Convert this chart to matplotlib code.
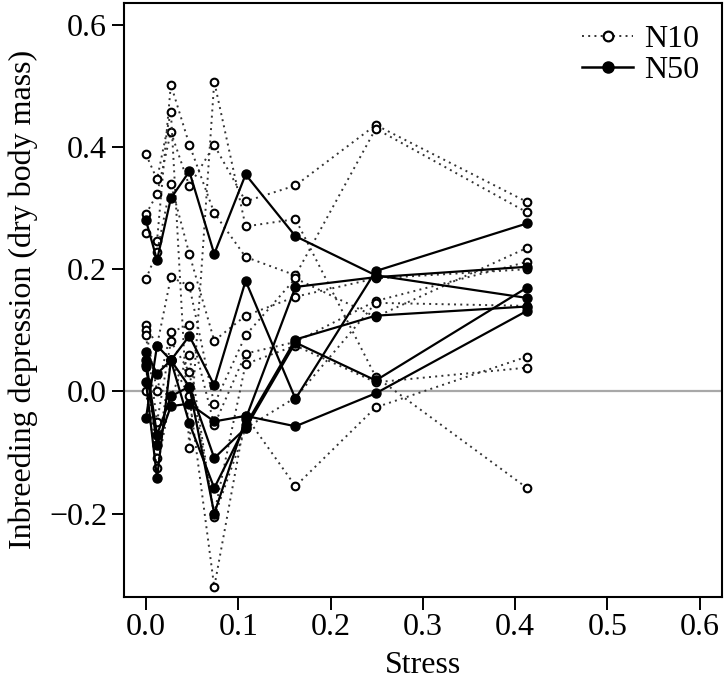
import matplotlib
matplotlib.use("Agg")
import matplotlib.pyplot as plt
from matplotlib.lines import Line2D

plt.rcParams["font.family"] = ["Liberation Serif", "DejaVu Serif"]

# stress levels (x positions shared by every line)
STRESS = [0.0, 0.012, 0.027, 0.047, 0.074, 0.108, 0.162, 0.249, 0.413]

# N10 replicate lines (inbreeding depression, dry body mass)
N10 = [
    [0.290, 0.323, 0.425, 0.336, 0.403, 0.311, 0.337, 0.436, 0.310],
    [0.260, 0.246, 0.502, 0.404, 0.292, 0.220, 0.190, 0.430, 0.293],
    [0.388, 0.347, 0.458, -0.093, 0.507, 0.270, 0.282, 0.024, -0.158],
    [0.040, -0.109, 0.050, -0.008, -0.320, -0.040, -0.155, -0.026, 0.057],
    [0.184, 0.228, 0.339, 0.225, 0.083, 0.124, 0.155, 0.185, 0.200],
    [0.108, 0.075, 0.187, 0.173, -0.021, 0.092, 0.185, 0.122, 0.235],
    [0.100, 0.000, 0.098, 0.108, -0.055, 0.062, 0.081, 0.148, 0.212],
    [0.092, -0.050, 0.082, 0.032, -0.200, 0.045, 0.075, 0.015, 0.039],
    [0.000, -0.126, -0.008, 0.060, -0.205, -0.060, -0.010, 0.145, 0.140],
]

# N50 replicate lines
N50 = [
    [0.280, 0.215, 0.316, 0.360, 0.225, 0.355, 0.254, 0.190, 0.153],
    [0.065, 0.029, 0.051, 0.091, 0.010, 0.181, -0.012, 0.197, 0.275],
    [0.016, -0.142, 0.051, 0.008, -0.200, -0.045, 0.171, 0.187, 0.204],
    [-0.044, 0.075, 0.051, -0.052, -0.158, -0.055, 0.085, 0.124, 0.139],
    [0.051, -0.071, -0.008, 0.008, -0.109, -0.060, 0.080, 0.018, 0.170],
    [0.043, -0.088, -0.024, -0.020, -0.049, -0.040, -0.057, -0.003, 0.132],
]

X_TICKS = [0.0, 0.1, 0.2, 0.3, 0.4, 0.5, 0.6]
Y_TICKS = [-0.2, 0.0, 0.2, 0.4, 0.6]

FS = 23
DOT = (0, (1, 2.2))

fig = plt.figure(figsize=(7.24, 6.86), dpi=100)
ax = fig.add_axes([0.171, 0.130, 0.826, 0.866])

ax.axhline(0, color="#a8a8a8", lw=1.6, zorder=1)

for ys in N10:
    ax.plot(STRESS, ys, color="#333333", lw=1.4, ls=DOT, marker="o", ms=5.5,
            mfc="white", mec="black", mew=1.5, zorder=2)
for ys in N50:
    ax.plot(STRESS, ys, color="black", lw=1.6, ls="-", marker="o", ms=6.5,
            mfc="black", mec="black", zorder=3)

ax.set_xlim(-0.024, 0.624)
ax.set_ylim(-0.336, 0.636)
ax.set_xticks(X_TICKS)
ax.set_xticklabels([f"{v:.1f}" for v in X_TICKS])
ax.set_yticks(Y_TICKS)
ax.set_yticklabels([f"{v:.1f}".replace("-", "\u2212") for v in Y_TICKS])
ax.tick_params(direction="out", length=9, width=1.4, labelsize=FS, pad=3)
for sp in ax.spines.values():
    sp.set_linewidth(1.5)

ax.set_xlabel("Stress", fontsize=FS, labelpad=6)
ax.set_ylabel("Inbreeding depression (dry body mass)", fontsize=FS, labelpad=8)

handles = [
    Line2D([], [], color="#333333", lw=1.4, ls=DOT, marker="o", ms=7,
           mfc="white", mec="black", mew=1.6),
    Line2D([], [], color="black", lw=1.8, marker="o", ms=8, mfc="black"),
]
ax.legend(handles, ["N10", "N50"], loc="upper right", frameon=False,
          fontsize=FS, handlelength=1.6, handletextpad=0.35,
          labelspacing=0.05, borderaxespad=0.3)

fig.savefig("out.png", dpi=100)
